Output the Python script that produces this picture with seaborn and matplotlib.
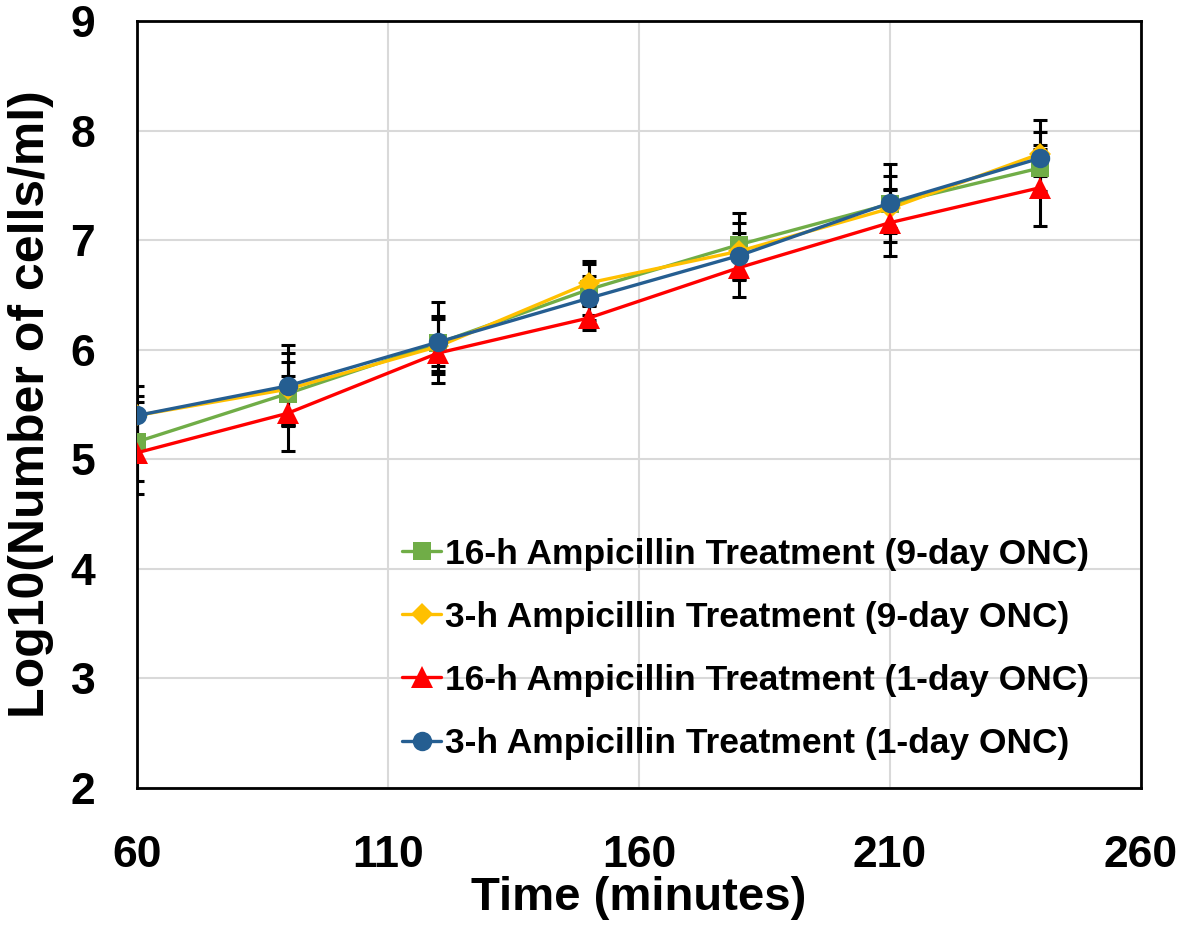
import numpy as np
import pandas as pd
import seaborn as sns
import matplotlib.pyplot as plt

# temps (minutes)
temps = [60, 90, 120, 150, 180, 210, 240]

# Log10(cellules/ml)
vert_16h_9j = [5.16, 5.60, 6.06, 6.55, 6.96, 7.33, 7.66]
jaune_3h_9j = [5.40, 5.64, 6.03, 6.61, 6.90, 7.29, 7.79]
rouge_16h_1j = [5.06, 5.42, 5.97, 6.29, 6.75, 7.16, 7.48]
bleu_3h_1j = [5.40, 5.67, 6.07, 6.47, 6.86, 7.34, 7.75]

# barres d'erreur (+/-)
err_vert = [0.36, 0.29, 0.25, 0.23, 0.29, 0.26, 0.21]
err_jaune = [0.18, 0.33, 0.25, 0.20, 0.26, 0.18, 0.20]
err_rouge = [0.38, 0.34, 0.12, 0.11, 0.27, 0.30, 0.35]
err_bleu = [0.27, 0.37, 0.37, 0.20, 0.21, 0.36, 0.35]

noms = ['16-h Ampicillin Treatment (9-day ONC)',
        '3-h Ampicillin Treatment (9-day ONC)',
        '16-h Ampicillin Treatment (1-day ONC)',
        '3-h Ampicillin Treatment (1-day ONC)']

sns.set_style("white")
plt.rcParams['font.family'] = ['Liberation Sans', 'DejaVu Sans']
plt.rcParams['font.weight'] = 'bold'
plt.rcParams['text.color'] = 'black'
plt.rcParams['axes.labelcolor'] = 'black'
plt.rcParams['xtick.color'] = 'black'
plt.rcParams['ytick.color'] = 'black'

fig = plt.figure(figsize=(11.81, 9.41), dpi=100)
ax = fig.add_axes([0.116, 0.1626, 0.85, 0.815])

series = [
    (vert_16h_9j, err_vert, '#70AD47', 's', 13),
    (jaune_3h_9j, err_jaune, '#FFC000', 'D', 11),
    (rouge_16h_1j, err_rouge, '#FF0000', '^', 16),
    (bleu_3h_1j, err_bleu, '#255E91', 'o', 14),
]

for i, (vals, errs, col, mk, ms) in enumerate(series):
    df = pd.DataFrame({'Temps': temps, 'Valeur': vals})
    ax.errorbar(temps, vals, yerr=errs, fmt='none', ecolor='black',
                elinewidth=2.2, capsize=5, capthick=2.2, zorder=2)
    sns.lineplot(data=df, x='Temps', y='Valeur', color=col, marker=mk,
                 markersize=ms, markeredgewidth=0, linewidth=2.4,
                 label=noms[i], ax=ax, zorder=3 + i)

ax.set_xlim(60, 260)
ax.set_ylim(2, 9)
ax.set_xticks(np.arange(60, 261, 50))
ax.set_yticks(np.arange(2, 10, 1))
ax.grid(True, color='#D9D9D9', linewidth=1.5)
ax.set_axisbelow(True)
for s in ax.spines.values():
    s.set_visible(True)
    s.set_color('black')
    s.set_linewidth(2)

ax.tick_params(axis='both', length=0, labelsize=32)
ax.tick_params(axis='x', pad=34)
ax.tick_params(axis='y', pad=30)
for lab in ax.get_xticklabels() + ax.get_yticklabels():
    lab.set_fontweight('bold')

ax.set_xlabel('Time (minutes)', fontsize=34, fontweight='bold', labelpad=0)
ax.set_ylabel('Log10(Number of cells/ml)', fontsize=36, fontweight='bold', labelpad=12)

ax.legend(loc='lower right', bbox_to_anchor=(0.98, -0.005), frameon=False,
          handlelength=1.1, handletextpad=0.1, labelspacing=0.85,
          prop={'weight': 'bold', 'size': 25.5})

plt.savefig('out.png', dpi=100)
